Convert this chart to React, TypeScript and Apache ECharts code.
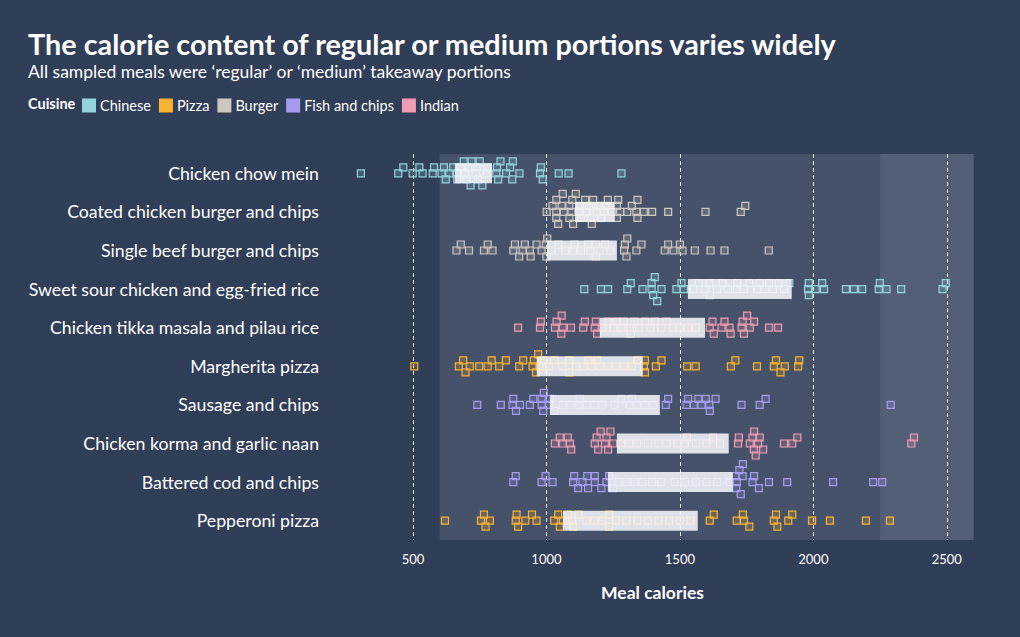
import React, { useEffect, useRef } from "react";
import * as echarts from "echarts";

const meals = [
  "Chicken chow mein",
  "Coated chicken burger and chips",
  "Single beef burger and chips",
  "Sweet sour chicken and egg-fried rice",
  "Chicken tikka masala and pilau rice",
  "Margherita pizza",
  "Sausage and chips",
  "Chicken korma and garlic naan",
  "Battered cod and chips",
  "Pepperoni pizza",
];
const mealCuisine = ["Chinese", "Burger", "Burger", "Chinese", "Indian", "Pizza", "Fish and chips", "Indian", "Fish and chips", "Pizza"];

const cuisines = ["Chinese", "Pizza", "Burger", "Fish and chips", "Indian"];
const cuisineColors = ["#93d3dc", "#f9b233", "#cdc6bf", "#a59cf0", "#f09db3"];

// Individual meal calories per dish
const chowMein = [305, 445, 464, 499, 524, 536, 574, 579, 607, 616, 623, 636, 651, 665, 666, 680, 690, 695, 700, 707, 716, 720, 735, 740, 744, 750, 760, 775, 780, 812, 815, 819, 828, 849, 864, 872, 874, 899, 976, 979, 986, 1046, 1083, 1281];
const coatedBurger = [1001, 1023, 1037, 1037, 1037, 1044, 1057, 1061, 1065, 1086, 1086, 1094, 1097, 1100, 1110, 1123, 1125, 1130, 1145, 1150, 1160, 1165, 1170, 1175, 1188, 1195, 1205, 1215, 1223, 1230, 1245, 1264, 1264, 1269, 1276, 1303, 1320, 1337, 1341, 1341, 1365, 1396, 1456, 1596, 1728, 1745];
const beefBurger = [663, 679, 710, 766, 780, 798, 876, 882, 898, 911, 919, 938, 941, 963, 982, 998, 1000, 1003, 1020, 1045, 1070, 1100, 1105, 1130, 1156, 1165, 1185, 1185, 1200, 1220, 1240, 1291, 1294, 1300, 1303, 1337, 1356, 1443, 1456, 1476, 1500, 1510, 1556, 1615, 1667, 1833];
const sweetSour = [1142, 1204, 1231, 1303, 1316, 1360, 1394, 1394, 1400, 1406, 1415, 1431, 1487, 1506, 1515, 1550, 1570, 1594, 1610, 1612, 1640, 1660, 1680, 1713, 1715, 1740, 1760, 1789, 1799, 1820, 1834, 1849, 1870, 1890, 1910, 1980, 1983, 1983, 2009, 2033, 2040, 2122, 2152, 2183, 2245, 2249, 2274, 2329, 2484, 2496];
const tikkaMasala = [894, 976, 979, 1032, 1038, 1056, 1057, 1061, 1092, 1138, 1144, 1181, 1185, 1190, 1210, 1230, 1250, 1263, 1281, 1290, 1313, 1316, 1330, 1347, 1370, 1390, 1406, 1429, 1450, 1473, 1500, 1530, 1560, 1612, 1622, 1627, 1656, 1667, 1686, 1690, 1731, 1735, 1740, 1752, 1762, 1778, 1834, 1868];
const margherita = [505, 672, 688, 697, 713, 748, 780, 795, 823, 848, 898, 913, 948, 953, 961, 969, 975, 990, 1010, 1030, 1060, 1086, 1086, 1110, 1138, 1157, 1169, 1190, 1200, 1230, 1260, 1290, 1320, 1340, 1365, 1369, 1369, 1410, 1431, 1527, 1559, 1691, 1708, 1789, 1852, 1860, 1877, 1893, 1943, 1947];
const sausageChips = [741, 829, 873, 876, 886, 901, 938, 951, 982, 982, 988, 990, 1010, 1013, 1030, 1060, 1090, 1123, 1125, 1150, 1180, 1210, 1255, 1280, 1311, 1321, 1340, 1370, 1400, 1447, 1456, 1525, 1531, 1552, 1569, 1581, 1597, 1610, 1612, 1634, 1731, 1799, 1821, 2290];
const korma = [1032, 1050, 1061, 1080, 1088, 1093, 1181, 1188, 1194, 1203, 1219, 1225, 1231, 1240, 1250, 1280, 1310, 1340, 1380, 1420, 1450, 1490, 1519, 1527, 1560, 1600, 1624, 1650, 1718, 1721, 1762, 1772, 1777, 1778, 1784, 1793, 1799, 1812, 1890, 1921, 1940, 2367, 2377];
const batteredCod = [876, 885, 982, 997, 1023, 1100, 1104, 1119, 1135, 1153, 1156, 1181, 1181, 1206, 1225, 1235, 1250, 1270, 1300, 1330, 1360, 1396, 1430, 1480, 1520, 1560, 1600, 1640, 1686, 1708, 1711, 1713, 1723, 1728, 1735, 1736, 1772, 1778, 1796, 1834, 1902, 2074, 2224, 2258];
const pepperoni = [620, 755, 766, 772, 788, 885, 888, 894, 921, 946, 963, 1029, 1044, 1050, 1062, 1080, 1096, 1100, 1120, 1150, 1180, 1210, 1235, 1235, 1260, 1300, 1340, 1380, 1420, 1460, 1500, 1540, 1612, 1627, 1713, 1736, 1740, 1760, 1852, 1860, 1865, 1906, 1921, 1995, 2062, 2197, 2287];

const mealValues = [chowMein, coatedBurger, beefBurger, sweetSour, tikkaMasala, margherita, sausageChips, korma, batteredCod, pepperoni];

// Interquartile bars
const lowerQuartile = [657, 1107, 1002, 1530, 1200, 964, 1013, 1264, 1230, 1062];
const upperQuartile = [796, 1256, 1264, 1919, 1594, 1361, 1425, 1683, 1698, 1567];

const xTicks = [500, 1000, 1500, 2000, 2500];
const xMin = 0;
const xMax = 2600;
const shadedRange = [600, 2600];
const highlightRange = [2250, 2600];

const GRID_LEFT = 279.5;
const GRID_RIGHT = 46.5;
const CHART_W = 1020;

// deterministic beeswarm offsets (pixels) so squares don't overlap
function swarm(values: number[], pxPerUnit: number, size: number, step: number): number[] {
  const order = values.map((_, i) => i).sort((a, b) => values[a] - values[b]);
  const placed: { x: number; level: number }[] = [];
  const out: number[] = new Array(values.length).fill(0);
  for (const i of order) {
    const x = values[i] * pxPerUnit;
    for (let k = 0; k < 30; k++) {
      const level = k === 0 ? 0 : k % 2 === 1 ? -Math.ceil(k / 2) : Math.ceil(k / 2);
      if (!placed.some((p) => p.level === level && Math.abs(p.x - x) < size)) {
        placed.push({ x, level });
        out[i] = level * step;
        break;
      }
    }
  }
  return out;
}

function hexToRgba(hex: string, a: number) {
  const n = parseInt(hex.slice(1), 16);
  return `rgba(${(n >> 16) & 255},${(n >> 8) & 255},${n & 255},${a})`;
}

export default function App() {
  const ref = useRef<HTMLDivElement>(null);
  useEffect(() => {
    if (!ref.current) return;
    document.body.style.margin = "0";
    const chart = echarts.init(ref.current, null, { renderer: "svg" });
    const pxPerUnit = (CHART_W - GRID_LEFT - GRID_RIGHT) / (xMax - xMin);
    const offsets = mealValues.map((vals) => swarm(vals, pxPerUnit, 7.2, 6));

    const font = "Lato, 'Noto Sans', sans-serif";

    const scatterSeries = cuisines.map((c, ci) => {
      const data: any[] = [];
      mealValues.forEach((vals, row) => {
        if (mealCuisine[row] !== c) return;
        vals.forEach((v, j) => {
          data.push({ value: [v, row], symbolOffset: [0, offsets[row][j]] });
        });
      });
      const s: any = {
        type: "scatter",
        name: c,
        data,
        symbol: "rect",
        symbolSize: 7,
        z: 2,
        itemStyle: {
          color: hexToRgba(cuisineColors[ci], 0.2),
          borderColor: cuisineColors[ci],
          borderWidth: 1.2,
          opacity: 1,
        },
        emphasis: { disabled: true },
      };
      if (ci === 0) {
        s.markArea = {
          silent: true,
          z: 1,
          data: [
            [{ xAxis: shadedRange[0], itemStyle: { color: "#45526a" } }, { xAxis: shadedRange[1] }],
            [{ xAxis: highlightRange[0], itemStyle: { color: "#535f76" } }, { xAxis: highlightRange[1] }],
          ],
        };
        s.markLine = {
          silent: true,
          z: 1.5,
          symbol: ["none", "none"],
          label: { show: false },
          lineStyle: { color: "rgba(255,255,255,0.9)", type: [4, 3], width: 1 },
          data: xTicks.map((t) => ({ xAxis: t })),
        };
      }
      return s;
    });

    const barSeries: any = {
      type: "custom",
      name: "IQR",
      z: 10,
      silent: true,
      data: meals.map((_, i) => [lowerQuartile[i], upperQuartile[i], i]),
      encode: { x: [0, 1], y: 2 },
      renderItem: (params: any, api: any) => {
        const start = api.coord([api.value(0), api.value(2)]);
        const end = api.coord([api.value(1), api.value(2)]);
        const h = 20;
        return {
          type: "rect",
          shape: { x: start[0], y: start[1] - h / 2, width: end[0] - start[0], height: h },
          style: { fill: "rgba(244,245,248,0.88)" },
        };
      },
    };

    chart.setOption({
      animation: false,
      backgroundColor: "#303e57",
      textStyle: { fontFamily: font },
      title: {
        left: 28,
        top: 29,
        padding: 0,
        text: "The calorie content of regular or medium portions varies widely",
        subtext: "All sampled meals were \u2018regular\u2019 or \u2018medium\u2019 takeaway portions",
        itemGap: 4,
        textStyle: { color: "#ffffff", fontSize: 28.8, fontWeight: "bold", fontFamily: font },
        subtextStyle: { color: "#ffffff", fontSize: 17.5, fontFamily: font },
      },
      graphic: [
        {
          type: "text",
          left: 28,
          top: 96,
          style: { text: "Cuisine", fill: "#ffffff", font: `bold 14.5px ${font}` },
        },
      ],
      legend: {
        left: 82,
        top: 98,
        padding: 0,
        icon: "rect",
        itemWidth: 14,
        itemHeight: 14,
        itemGap: 8,
        selectedMode: false,
        textStyle: { color: "#ffffff", fontSize: 14.5, fontFamily: font, padding: [0, 0, 0, -1] },
        data: cuisines.map((c, i) => ({
          name: c,
          itemStyle: { color: cuisineColors[i], borderWidth: 0, opacity: 1 },
        })),
      },
      grid: { left: GRID_LEFT, right: GRID_RIGHT, top: 154, bottom: 97 },
      xAxis: {
        type: "value",
        min: xMin,
        max: xMax,
        interval: 500,
        axisLine: { show: false },
        axisTick: { show: false },
        splitLine: { show: false },
        axisLabel: {
          color: "#ffffff",
          fontSize: 13,
          margin: 12,
          fontFamily: font,
          formatter: (v: number) => (xTicks.includes(v) ? String(v) : ""),
        },
        name: "Meal calories",
        nameLocation: "middle",
        nameGap: 43,
        nameTextStyle: { color: "#ffffff", fontSize: 17.5, fontWeight: "bold", fontFamily: font, padding: [0, 0, 0, 52] },
      },
      yAxis: {
        type: "category",
        data: meals,
        inverse: true,
        offset: -47.5,
        axisLine: { show: false, onZero: false },
        axisTick: { show: false },
        splitLine: { show: false },
        axisLabel: { color: "#ffffff", fontSize: 17.7, margin: 8, fontFamily: font },
      },
      series: [...scatterSeries, barSeries],
    });
    return () => chart.dispose();
  }, []);
  return <div ref={ref} style={{ width: 1020, height: 637 }} />;
}
